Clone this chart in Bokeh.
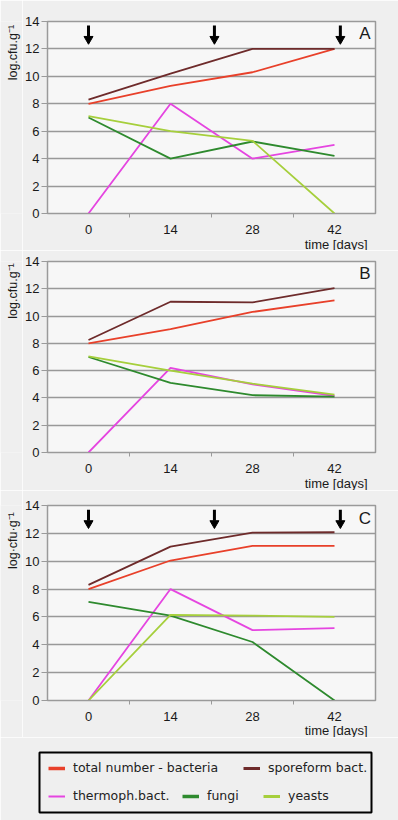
import math
from bokeh.plotting import figure
from bokeh.models import FixedTicker, Label, Legend, LegendItem, Range1d, Title
from bokeh.layouts import column, row
from bokeh.embed import file_html
from bokeh.resources import INLINE

# ---------------- data ----------------
days = [0, 14, 28, 42]
y_ticks = [0, 2, 4, 6, 8, 10, 12, 14]
series_names = ["total number - bacteria", "sporeform bact.", "thermoph.bact.", "fungi", "yeasts"]
series_colors = ["#e8402a", "#6e2b2b", "#e545e0", "#2e8a2e", "#a6cf3c"]

a_total = [8.0, 9.3, 10.3, 12.0]
a_spore = [8.3, 10.2, 12.0, 12.0]
a_thermo = [0.0, 8.0, 4.0, 5.0]
a_fungi = [7.0, 4.0, 5.25, 4.2]
a_yeasts = [7.1, 6.0, 5.3, 0.0]

b_total = [8.0, 9.05, 10.3, 11.15]
b_spore = [8.25, 11.05, 11.0, 12.05]
b_thermo = [0.0, 6.2, 5.0, 4.15]
b_fungi = [7.0, 5.1, 4.2, 4.1]
b_yeasts = [7.05, 6.0, 5.05, 4.25]

c_total = [8.0, 10.05, 11.1, 11.1]
c_spore = [8.3, 11.05, 12.05, 12.08]
c_thermo = [0.0, 8.0, 5.05, 5.2]
c_fungi = [7.08, 6.1, 4.2, 0.0]
c_yeasts = [0.0, 6.15, 6.1, 6.0]

arrows_a = [0, 21.5, 43]
arrows_c = [0, 21.5, 43]

PAGE_BG = "#efefef"
FRAME_BG = "#f7f7f7"
TXT = "#1a1a1a"
FONT = "Liberation Sans"
LAB_W = 22


def make_title(text, standoff):
    kw = dict(text=text, align="right", offset=8, text_font=FONT, text_font_size="13px",
              text_font_style="normal", text_color=TXT)
    try:
        return Title(standoff=standoff, **kw)
    except Exception:
        return Title(standoff=0, **kw)


def make_panel(series, letter, arrows, height, top, bottom, title_standoff, ylabel, ylab_center):
    p = figure(width=398 - LAB_W, height=height, x_range=Range1d(-7, 49), y_range=Range1d(0, 14),
               output_backend="svg", toolbar_location=None,
               min_border_left=45 - LAB_W, min_border_right=23, min_border_top=top, min_border_bottom=bottom,
               background_fill_color=FRAME_BG, border_fill_color=PAGE_BG,
               outline_line_color="#9a9a9a", outline_line_width=1.5)
    p.xaxis.ticker = FixedTicker(ticks=days, minor_ticks=[7, 21, 35])
    p.xaxis.major_tick_out = 0
    p.xaxis.major_tick_in = 0
    p.xaxis.minor_tick_out = 4
    p.xaxis.minor_tick_in = 0
    p.xaxis.minor_tick_line_color = "#9a9a9a"
    p.xaxis.axis_line_color = "#9a9a9a"
    p.xaxis.major_label_standoff = 7
    p.yaxis.ticker = FixedTicker(ticks=y_ticks)
    p.yaxis.major_tick_out = 6
    p.yaxis.major_tick_in = 0
    p.yaxis.major_tick_line_color = "#9a9a9a"
    p.yaxis.minor_tick_line_color = None
    p.yaxis.axis_line_color = "#9a9a9a"
    p.yaxis.major_label_standoff = 2
    for ax in (p.xaxis, p.yaxis):
        ax.major_label_text_font = FONT
        ax.major_label_text_font_size = "13px"
        ax.major_label_text_color = TXT
    p.xgrid.visible = False
    p.ygrid.grid_line_color = "#999999"
    p.ygrid.grid_line_width = 1.5

    for vals, col in zip(series, series_colors):
        p.line(days, vals, line_color=col, line_width=1.8)

    if arrows:
        n = len(arrows)
        p.segment(x0=arrows, y0=[13.7] * n, x1=arrows, y1=[12.9] * n, line_color="black", line_width=3)
        p.scatter(x=arrows, y=[12.72] * n, marker="inverted_triangle", size=9,
                  fill_color="black", line_color="black")

    p.add_layout(Label(x=47.2, y=13.1, text=letter, text_align="center", text_baseline="middle",
                       text_font=FONT, text_font_size="17px", text_color=TXT))
    p.add_layout(make_title("time [days]", title_standoff), "below")

    # narrow strip to the left carrying the rotated y-axis title
    lab = figure(width=LAB_W, height=height, x_range=Range1d(0, LAB_W), y_range=Range1d(height, 0),
                 output_backend="svg", toolbar_location=None,
                 min_border_left=0, min_border_right=0, min_border_top=0, min_border_bottom=0,
                 background_fill_color=PAGE_BG, border_fill_color=PAGE_BG, outline_line_color=None)
    lab.axis.visible = False
    lab.grid.visible = False
    lab.add_layout(Label(x=12, y=ylab_center, text=ylabel, angle=math.pi / 2, text_align="center",
                         text_baseline="middle", text_font=FONT, text_font_size="12.5px", text_color=TXT))
    return row(lab, p, spacing=0)


pa = make_panel([a_total, a_spore, a_thermo, a_fungi, a_yeasts], "A", arrows_a, 250, 21, 37, -4,
                "log.cfu.g\u207b\u00b9", 40.5)
pb = make_panel([b_total, b_spore, b_thermo, b_fungi, b_yeasts], "B", None, 240, 11, 38, -3,
                "log.cfu.g\u207b\u00b9", 37)
pc = make_panel([c_total, c_spore, c_thermo, c_fungi, c_yeasts], "C", arrows_c, 247, 15, 37, -5,
                "log\u00b7cfu\u00b7g\u207b\u00b9", 44.5)

# ---------------- legend ----------------
lf = figure(width=398, height=83, x_range=Range1d(0, 1), y_range=Range1d(0, 1),
            output_backend="svg", toolbar_location=None,
            min_border_left=39, min_border_right=27, min_border_top=15, min_border_bottom=8,
            background_fill_color=PAGE_BG, border_fill_color=PAGE_BG,
            outline_line_color="black", outline_line_width=2)
lf.axis.visible = False
lf.grid.visible = False

legend_widths = [3.5, 3, 2, 3.5, 3]
legend_pos = [(9, 37), (204, 37), (9, 9), (143, 9), (224, 9)]
for name, col, lw, pos in zip(series_names, series_colors, legend_widths, legend_pos):
    r = lf.line(x=[2, 3], y=[2, 2], line_color=col, line_width=lw)
    lg = Legend(items=[LegendItem(label=name, renderers=[r])], location=pos,
                orientation="horizontal", padding=0, margin=0, spacing=0,
                glyph_width=17, glyph_height=12, label_height=12, label_standoff=8,
                border_line_alpha=0, background_fill_alpha=0,
                label_text_font="DejaVu Sans", label_text_font_size="12.5px", label_text_color="#222222")
    lf.add_layout(lg, "center")

layout = column(pa, pb, pc, lf, spacing=0)

html = file_html(layout, INLINE)
html = html.replace("<body>", '<body style="background-color:#efefef;">', 1)
open("out.html", "w").write(html)
